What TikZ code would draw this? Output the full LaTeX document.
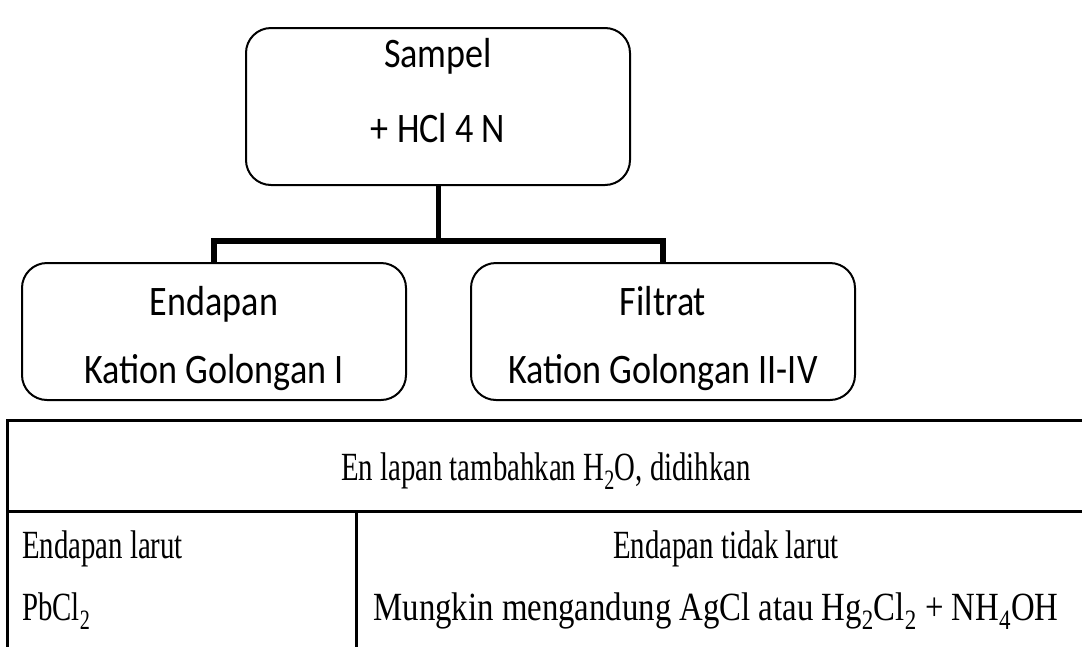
\documentclass[tikz,border=0pt]{standalone}
\usepackage{fontspec}
\setmainfont[FakeStretch=0.86]{Carlito}
\newfontfamily\timesfont[FakeStretch=0.72]{Liberation Serif}
\newfontfamily\timeswide[FakeStretch=0.82]{Liberation Serif}
\usetikzlibrary{positioning}
\tikzset{
  flowbox/.style={draw,line width=2pt,rounded corners=25pt,minimum width=384pt},
  boxtext/.style={font=\fontsize{42}{48}\selectfont,inner sep=0pt,anchor=base},
  bond/.style={line width=5pt},
  cellline/.style={line width=3pt},
  celltext/.style={font=\timesfont\fontsize{40}{46}\selectfont,inner sep=0pt},
}

\begin{document}
\begin{tikzpicture}[x=1pt,y=-1pt]
  \clip (0,0) rectangle (1082,646);
  % flow boxes
  \node[flowbox,minimum height=157pt] (sampel) at (438,106.5) {};
  \node[flowbox,minimum height=137pt] (endapan) at (214,331.5) {};
  \node[flowbox,minimum height=137pt] (filtrat) at (663,331.5) {};
  \node[boxtext] (sampel1) at (438,67) {Sampel};
  \node[boxtext] (sampel2) at (438,142) {+ HCl 4 N};
  \node[boxtext] (endapan1) at (214,315) {Endapan};
  \node[boxtext] (endapan2) at (214,383) {Kation Golongan I};
  \node[boxtext] (filtrat1) at (663,315) {Filtrat};
  \node[boxtext] (filtrat2) at (663,383) {Kation Golongan II-IV};
  \draw[bond] (sampel.south) -- ++(0,55) coordinate (fork);
  \draw[bond,line width=6pt] (endapan.north) -- (endapan.north |- fork)
    -- (filtrat.north |- fork) -- (filtrat.north);
  % table
  \draw[cellline] (1090,420) -- (7,420) -- (7,660);
  \draw[cellline] (7,511) -- (1090,511);
  \draw[cellline] (356,511) -- (356,660);
  \node[celltext,anchor=base] (kepala) at (546,480)
    {En lapan tambahkan H\textsubscript{2}O, didihkan};
  \node[celltext,anchor=base west] (larut) at (22,558) {Endapan larut};
  \node[celltext,anchor=base west] (pbcl) at (22,620) {PbCl\textsubscript{2}};
  \node[celltext,anchor=base] (tidak) at (726,558) {Endapan tidak larut};
  \node[celltext,anchor=base,font=\timeswide\fontsize{40}{46}\selectfont] (mungkin) at (716,620)
    {Mungkin mengandung AgCl atau Hg\textsubscript{2}Cl\textsubscript{2} + NH\textsubscript{4}OH};
\end{tikzpicture}
\end{document}
